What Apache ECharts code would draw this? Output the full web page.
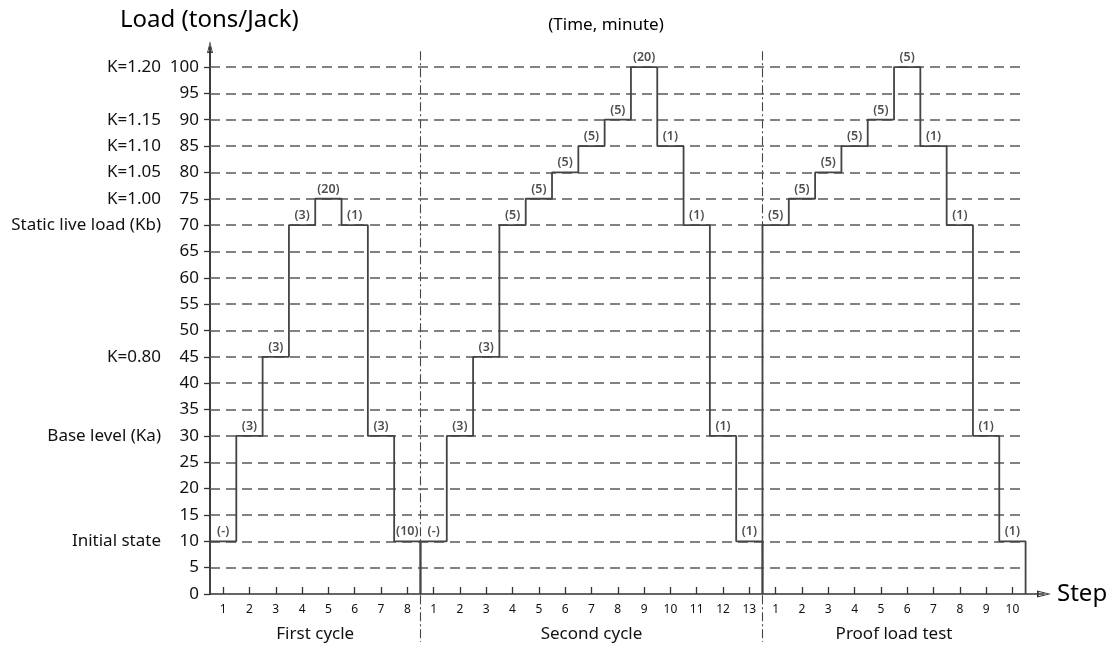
<!DOCTYPE html>
<html><head><meta charset="utf-8">
<script src="https://cdn.jsdelivr.net/npm/echarts@6/dist/echarts.min.js"></script>
<style>html,body{margin:0;padding:0;background:#fff}#c{width:1114px;height:646px}</style>
</head><body><div id="c"></div>
<script>
// ---- data ----
const cycleNames = ['First cycle', 'Second cycle', 'Proof load test'];
const firstSteps = ['1','2','3','4','5','6','7','8'];
const firstLevels = [10, 30, 45, 70, 75, 70, 30, 10];
const firstTimes = ['(-)','(3)','(3)','(3)','(20)','(1)','(3)','(10)'];
const secondSteps = ['1','2','3','4','5','6','7','8','9','10','11','12','13'];
const secondLevels = [10, 30, 45, 70, 75, 80, 85, 90, 100, 85, 70, 30, 10];
const secondTimes = ['(-)','(3)','(3)','(5)','(5)','(5)','(5)','(5)','(20)','(1)','(1)','(1)','(1)'];
const proofSteps = ['1','2','3','4','5','6','7','8','9','10'];
const proofLevels = [70, 75, 80, 85, 90, 100, 85, 70, 30, 10];
const proofTimes = ['(5)','(5)','(5)','(5)','(5)','(5)','(1)','(1)','(1)','(1)'];
const yTickValues = [0,5,10,15,20,25,30,35,40,45,50,55,60,65,70,75,80,85,90,95,100];
const gridValues = [5,10,15,20,25,30,35,40,45,50,55,60,65,70,75,80,85,90,95,100];
const refValues = [100, 90, 85, 80, 75, 70, 45, 30, 10];
const refNames = ['K=1.20','K=1.15','K=1.10','K=1.05','K=1.00','Static live load (Kb)','K=0.80','Base level (Ka)','Initial state'];

// ---- build ----
const cycles = [
  {name: cycleNames[0], steps: firstSteps, levels: firstLevels, times: firstTimes},
  {name: cycleNames[1], steps: secondSteps, levels: secondLevels, times: secondTimes},
  {name: cycleNames[2], steps: proofSteps, levels: proofLevels, times: proofTimes}
];
let off = 0;
const allStepLabels = [];
const xTickValues = [];
const labelPts = [];
cycles.forEach(c => {
  c.offset = off;
  c.levels.forEach((v, i) => {
    allStepLabels.push(c.steps[i]);
    xTickValues.push(off + i + 0.5);
    labelPts.push({value: [off + i + 0.5, v], name: c.times[i]});
  });
  off += c.levels.length;
});
const totalSteps = off;

const FONT = '"Noto Sans", "Open Sans", sans-serif';
const TXT = '#111';
const arrowPath = 'path://M5,0 L10,20 L0,20 Z M5,5 L2.2,17.6 L7.8,17.6 Z';

const series = cycles.map(c => {
  const pts = [[c.offset, 0]];
  c.levels.forEach((v, i) => pts.push([c.offset + i, v]));
  pts.push([c.offset + c.levels.length, c.levels[c.levels.length - 1]]);
  pts.push([c.offset + c.levels.length, 0]);
  return {
    type: 'line', step: 'end', data: pts, symbol: 'none', z: 5,
    lineStyle: {color: '#444', width: 1.8}, silent: true, animation: false
  };
});
series.push({
  type: 'scatter', data: labelPts, symbolSize: 0, z: 6, silent: true, animation: false,
  label: {show: true, position: 'top', distance: 3, formatter: p => p.name,
    fontFamily: FONT, fontSize: 12.5, fontWeight: 600, color: '#222'},
  markLine: {
    silent: true, symbol: 'none', animation: false, label: {show: false},
    lineStyle: {color: '#5a5a5a', width: 1.5, type: [10, 6]},
    data: gridValues.map(v => [{coord: [0, v]}, {coord: [totalSteps, v]}])
  }
});

const chart = echarts.init(document.getElementById('c'), null, {renderer: 'canvas'});
const option = {
  animation: false,
  backgroundColor: '#fff',
  grid: {left: 210, right: 70, top: 47, bottom: 52, containLabel: false},
  xAxis: {
    type: 'value', min: 0, max: 31.7,
    axisLine: {show: true, symbol: ['none', arrowPath], symbolSize: [7, 15],
      lineStyle: {color: '#333', width: 1.6}},
    axisTick: {show: true, inside: true, length: 7, customValues: xTickValues,
      lineStyle: {color: '#333', width: 1.3}},
    axisLabel: {customValues: xTickValues, margin: 10, fontFamily: FONT, fontSize: 12, color: TXT,
      formatter: v => allStepLabels[Math.floor(v)]},
    splitLine: {show: false}
  },
  yAxis: [{
    type: 'value', min: 0, max: 103.8,
    axisLine: {show: true, symbol: ['none', arrowPath], symbolSize: [7, 12],
      lineStyle: {color: '#333', width: 1.9}},
    axisTick: {show: true, length: 6, customValues: yTickValues, lineStyle: {color: '#333', width: 1.3}},
    axisLabel: {customValues: yTickValues, margin: 11, fontFamily: FONT, fontSize: 17, color: TXT},
    splitLine: {show: false}
  }, {
    type: 'value', min: 0, max: 103.8, position: 'left',
    axisLine: {show: false}, axisTick: {show: false}, splitLine: {show: false},
    axisLabel: {customValues: refValues, margin: 49, fontFamily: FONT, fontSize: 17, color: TXT,
      formatter: v => refNames[refValues.indexOf(v)]}
  }],
  series: series
};
chart.setOption(option);

const y0 = chart.convertToPixel({yAxisIndex: 0}, 0);
const yTop = chart.convertToPixel({yAxisIndex: 0}, 103);
const graphics = [
  {type: 'text', left: 120, top: 8, style: {text: 'Load (tons/Jack)', font: '24px ' + FONT, fill: '#000'}},
  {type: 'text', x: 606, y: 25, style: {text: '(Time, minute)', font: '17px ' + FONT, fill: '#000', align: 'center', verticalAlign: 'middle'}},
  {type: 'text', x: 1057, y: y0, style: {text: 'Step', font: '24px ' + FONT, fill: '#000', align: 'left', verticalAlign: 'middle'}}
];
cycles.forEach((c, k) => {
  const cx = chart.convertToPixel({xAxisIndex: 0}, c.offset + c.levels.length / 2);
  graphics.push({type: 'text', x: cx, y: y0 + 40, style: {text: c.name, font: '17px ' + FONT, fill: TXT, align: 'center', verticalAlign: 'middle'}});
  if (k > 0) {
    const sx = Math.round(chart.convertToPixel({xAxisIndex: 0}, c.offset)) + 0.5;
    graphics.push({type: 'line', silent: true, z: 1,
      shape: {x1: sx, y1: yTop, x2: sx, y2: y0 + 48},
      style: {stroke: '#444', lineWidth: 1.1, lineDash: [9, 3, 2, 3]}});
  }
});
chart.setOption({graphic: graphics});
</script>
</body></html>
